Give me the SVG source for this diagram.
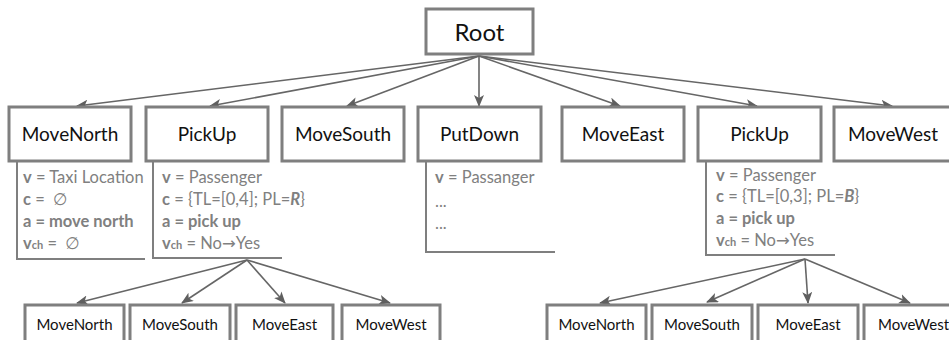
<svg xmlns="http://www.w3.org/2000/svg" width="949" height="340" viewBox="0 0 949 340">
  <defs>
    <marker id="arrow" viewBox="0 0 12 10" refX="11" refY="5" markerWidth="12" markerHeight="10" markerUnits="userSpaceOnUse" orient="auto">
      <path d="M0,0 L12,5 L0,10 L3,5 Z" fill="#5f5f5f"/>
    </marker>
  </defs>
  <style>
    .box { fill: #ffffff; stroke: #7f7f7f; stroke-width: 3; }
    .lbl { font-family: Lato, "Liberation Sans", sans-serif; fill: #111111; text-anchor: middle; }
    .l0 { font-size: 24px; }
    .l1 { font-size: 19px; }
    .l2 { font-size: 15px; }
    .panel { fill: none; stroke: #7f7f7f; stroke-width: 2; }
    .info { font-family: Lato, "Liberation Sans", sans-serif; font-size: 16.5px; fill: #808080; }
    .b { font-weight: bold; }
    .sub { font-size: 11px; font-weight: bold; }
    .sym { font-family: "DejaVu Sans", sans-serif; }
    .edge { fill: none; stroke: #666666; stroke-width: 1.6; marker-end: url(#arrow); }
  </style>

  <!-- connectors -->
  <g id="edges">
    <line class="edge" x1="479" y1="56" x2="77" y2="106"/>
    <line class="edge" x1="479" y1="56" x2="210" y2="106"/>
    <line class="edge" x1="479" y1="56" x2="347" y2="106"/>
    <line class="edge" x1="479" y1="56" x2="479" y2="106"/>
    <line class="edge" x1="479" y1="56" x2="620" y2="106"/>
    <line class="edge" x1="479" y1="56" x2="757" y2="106"/>
    <line class="edge" x1="479" y1="56" x2="892" y2="106"/>

    <line class="edge" x1="247" y1="260" x2="77" y2="303"/>
    <line class="edge" x1="247" y1="260" x2="182" y2="303"/>
    <line class="edge" x1="247" y1="260" x2="285" y2="303"/>
    <line class="edge" x1="247" y1="260" x2="390" y2="303"/>

    <line class="edge" x1="805" y1="259" x2="600" y2="303"/>
    <line class="edge" x1="805" y1="259" x2="707" y2="302"/>
    <line class="edge" x1="805" y1="259" x2="808" y2="303"/>
    <line class="edge" x1="805" y1="259" x2="910" y2="303"/>
  </g>

  <!-- root -->
  <g id="root">
    <rect class="box" x="426" y="9" width="107" height="45"/>
    <text class="lbl l0" x="479.5" y="41">Root</text>
  </g>

  <!-- first level -->
  <g id="moveNorth">
    <rect class="box" x="9" y="107" width="122" height="54"/>
    <text class="lbl l1" x="70" y="141">MoveNorth</text>
    <polyline class="panel" points="17,161 17,259 145,259"/>
    <text class="info" x="23" y="183"><tspan class="b">v</tspan> = Taxi Location</text>
    <text class="info" x="23" y="205"><tspan class="b">c</tspan> = <tspan class="sym" dx="4">∅</tspan></text>
    <text class="info b" x="23" y="227">a = move north</text>
    <text class="info" x="23" y="249"><tspan class="b">v</tspan><tspan class="sub">ch</tspan> = <tspan class="sym" dx="4">∅</tspan></text>
  </g>

  <g id="pickUp1">
    <rect class="box" x="146" y="107" width="122" height="54"/>
    <text class="lbl l1" x="207" y="141">PickUp</text>
    <polyline class="panel" points="153,161 153,258 282,258"/>
    <text class="info" x="162" y="183"><tspan class="b">v</tspan> = Passenger</text>
    <text class="info" x="162" y="205"><tspan class="b">c</tspan> = {TL=[0,4]; PL=<tspan class="b" font-style="italic">R</tspan>}</text>
    <text class="info b" x="162" y="227">a = pick up</text>
    <text class="info" x="162" y="249"><tspan class="b">v</tspan><tspan class="sub">ch</tspan> = No<tspan class="sym">→</tspan>Yes</text>
  </g>

  <g id="moveSouth">
    <rect class="box" x="282" y="107" width="122" height="54"/>
    <text class="lbl l1" x="343" y="141">MoveSouth</text>
  </g>

  <g id="putDown">
    <rect class="box" x="418" y="107" width="123" height="54"/>
    <text class="lbl l1" x="479.5" y="141">PutDown</text>
    <polyline class="panel" points="426,161 426,252 555,252"/>
    <text class="info" x="435" y="183"><tspan class="b">v</tspan> = Passanger</text>
    <text class="info" x="435" y="207">...</text>
    <text class="info" x="435" y="229">...</text>
  </g>

  <g id="moveEast">
    <rect class="box" x="562" y="107" width="122" height="54"/>
    <text class="lbl l1" x="623" y="141">MoveEast</text>
  </g>

  <g id="pickUp2">
    <rect class="box" x="698" y="107" width="123" height="54"/>
    <text class="lbl l1" x="759.5" y="141">PickUp</text>
    <polyline class="panel" points="706,161 706,255 835,255"/>
    <text class="info" x="716" y="181"><tspan class="b">v</tspan> = Passenger</text>
    <text class="info" x="716" y="202"><tspan class="b">c</tspan> = {TL=[0,3]; PL=<tspan class="b" font-style="italic">B</tspan>}</text>
    <text class="info b" x="716" y="224">a = pick up</text>
    <text class="info" x="716" y="246"><tspan class="b">v</tspan><tspan class="sub">ch</tspan> = No<tspan class="sym">→</tspan>Yes</text>
  </g>

  <g id="moveWest">
    <rect class="box" x="834" y="107" width="122" height="54"/>
    <text class="lbl l1" x="893" y="141">MoveWest</text>
  </g>

  <!-- second level, under the left PickUp -->
  <g id="pickUp1-moveNorth">
    <rect class="box" x="25" y="305" width="99" height="50"/>
    <text class="lbl l2" x="74.5" y="330">MoveNorth</text>
  </g>
  <g id="pickUp1-moveSouth">
    <rect class="box" x="130" y="305" width="100" height="50"/>
    <text class="lbl l2" x="180" y="330">MoveSouth</text>
  </g>
  <g id="pickUp1-moveEast">
    <rect class="box" x="236" y="305" width="97" height="50"/>
    <text class="lbl l2" x="284.5" y="330">MoveEast</text>
  </g>
  <g id="pickUp1-moveWest">
    <rect class="box" x="342" y="305" width="98" height="50"/>
    <text class="lbl l2" x="391" y="330">MoveWest</text>
  </g>

  <!-- second level, under the right PickUp -->
  <g id="pickUp2-moveNorth">
    <rect class="box" x="547" y="305" width="99" height="50"/>
    <text class="lbl l2" x="596.5" y="330">MoveNorth</text>
  </g>
  <g id="pickUp2-moveSouth">
    <rect class="box" x="652" y="305" width="100" height="50"/>
    <text class="lbl l2" x="702" y="330">MoveSouth</text>
  </g>
  <g id="pickUp2-moveEast">
    <rect class="box" x="758" y="305" width="100" height="50"/>
    <text class="lbl l2" x="808" y="330">MoveEast</text>
  </g>
  <g id="pickUp2-moveWest">
    <rect class="box" x="864" y="305" width="99" height="50"/>
    <text class="lbl l2" x="913.5" y="330">MoveWest</text>
  </g>
</svg>
